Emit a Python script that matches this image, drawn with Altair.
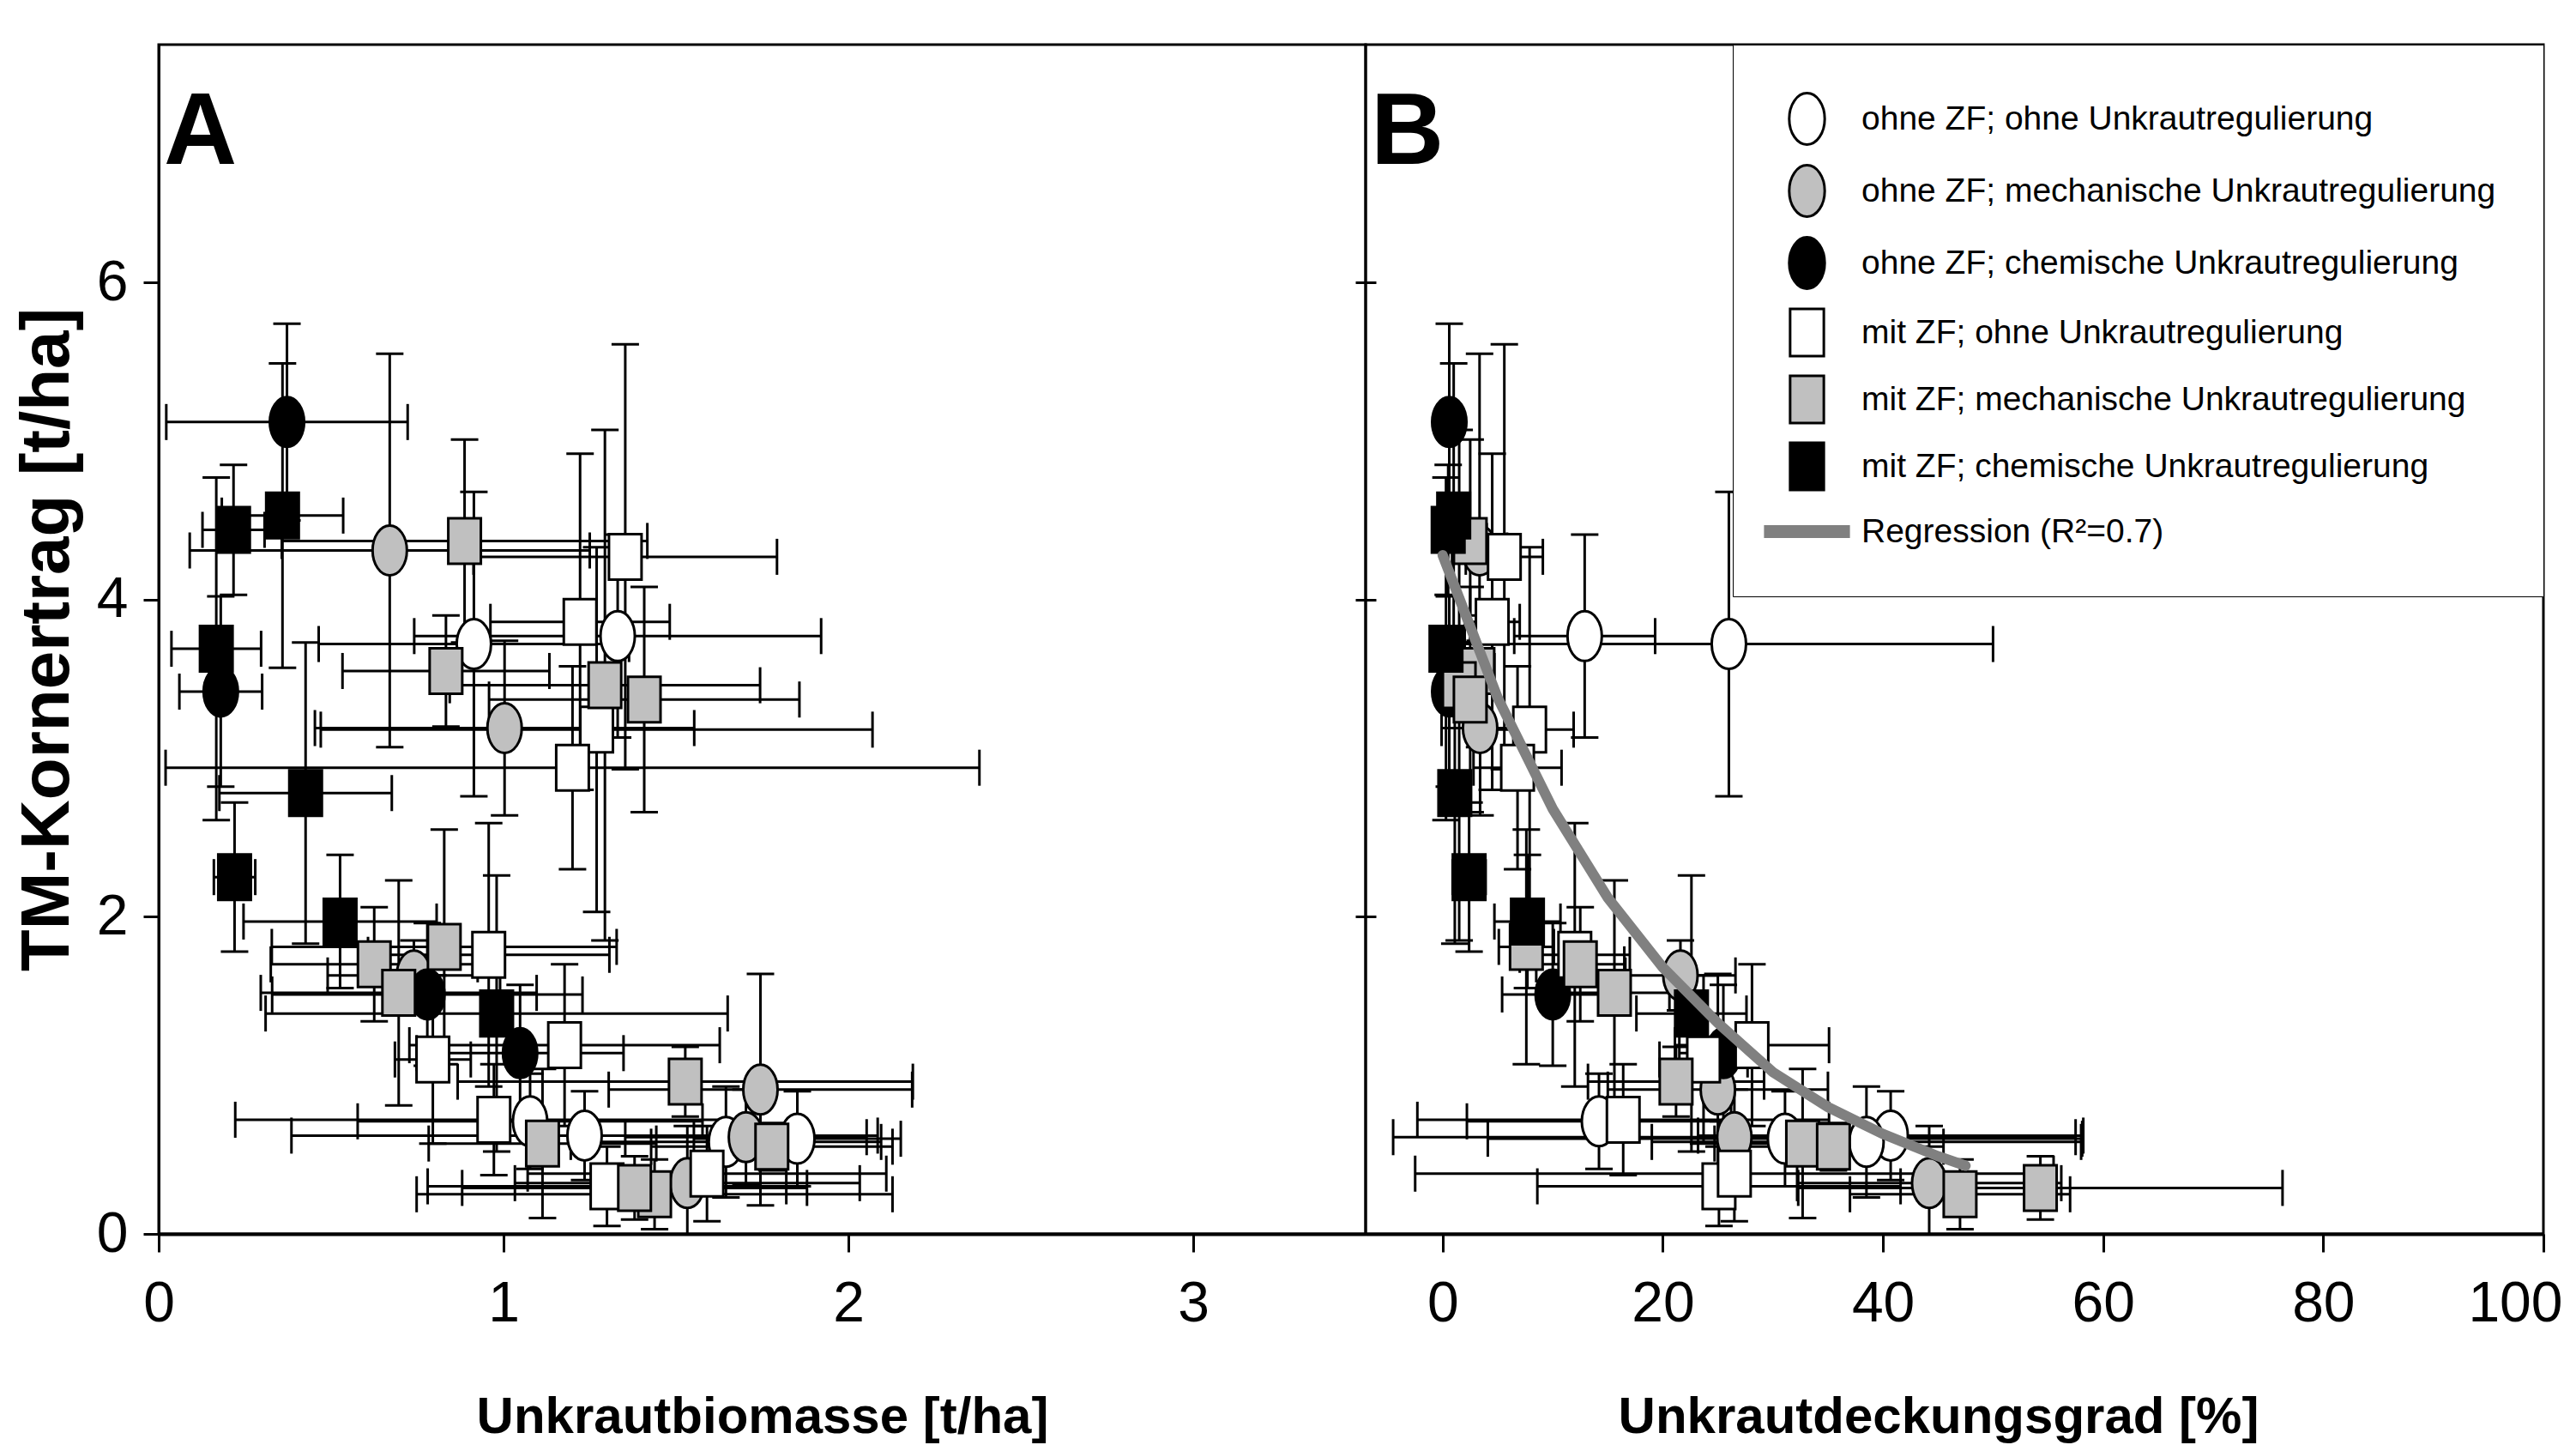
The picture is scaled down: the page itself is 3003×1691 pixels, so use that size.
import altair as alt
import pandas as pd

# ---------------- data ----------------
series_names = [
    "ohne ZF; ohne Unkrautregulierung",
    "ohne ZF; mechanische Unkrautregulierung",
    "ohne ZF; chemische Unkrautregulierung",
    "mit ZF; ohne Unkrautregulierung",
    "mit ZF; mechanische Unkrautregulierung",
    "mit ZF; chemische Unkrautregulierung",
]
regression_label = "Regression (R²=0.7)"

point_series = [0] * 6 + [1] * 6 + [2] * 4 + [3] * 10 + [4] * 12 + [5] * 7

yield_t = [3.72, 3.77, 0.71, 0.62, 0.58, 0.60,
           4.31, 3.19, 1.63, 0.91, 0.61, 0.32,
           5.12, 3.42, 1.51, 1.14,
           4.27, 3.86, 3.18, 2.94, 1.76, 1.19, 1.10, 0.72, 0.30, 0.38,
           4.37, 3.55, 3.46, 3.37, 1.81, 1.70, 1.52, 0.96, 0.57, 0.55, 0.25, 0.29,
           4.53, 4.44, 3.69, 2.78, 2.25, 1.97, 1.39]
yield_sd = [0.96, 0.64, 0.30, 0.28, 0.35, 0.30,
            1.24, 0.55, 0.22, 0.73, 0.30, 0.36,
            0.62, 0.60, 0.45, 0.43,
            1.34, 1.06, 1.15, 0.64, 0.83, 0.51, 0.53, 0.35, 0.25, 0.30,
            0.64, 0.35, 1.61, 0.71, 0.74, 0.36, 0.71, 0.22, 0.47, 0.15, 0.22, 0.20,
            0.96, 0.41, 1.08, 0.95, 0.47, 0.42, 0.87]
biomass = [0.914, 1.331, 1.077, 1.235, 1.645, 1.852,
           0.670, 1.003, 0.740, 1.745, 1.703, 1.533,
           0.372, 0.180, 0.779, 1.048,
           1.353, 1.222, 1.270, 1.200, 0.957, 1.177, 0.795, 0.972, 1.300, 1.590,
           0.887, 0.833, 1.294, 1.408, 0.828, 0.625, 0.696, 1.527, 1.113, 1.778, 1.438, 1.380,
           0.359, 0.217, 0.167, 0.426, 0.220, 0.526, 0.980]
biomass_sd = [0.45, 0.59, 0.50, 0.85, 0.45, 0.30,
              0.58, 0.55, 0.25, 0.44, 0.35, 0.50,
              0.35, 0.12, 0.45, 0.30,
              0.44, 0.26, 0.80, 1.18, 0.35, 0.45, 0.11, 0.75, 0.52, 0.52,
              0.53, 0.30, 0.45, 0.45, 0.50, 0.30, 0.40, 0.66, 0.33, 0.35, 0.69, 0.50,
              0.176, 0.09, 0.13, 0.25, 0.06, 0.28, 0.67]
cover = [26.0, 12.9, 14.2, 40.7, 38.5, 31.1,
         3.35, 3.4, 21.6, 25.0, 26.5, 44.2,
         0.6, 0.6, 10.0, 25.5,
         5.6, 4.5, 7.9, 6.8, 12.0, 28.1, 23.7, 16.4, 25.1, 26.5,
         2.5, 3.2, 1.5, 2.5, 7.6, 12.5, 15.6, 21.2, 32.7, 35.5, 47.0, 54.3,
         1.0, 0.5, 0.3, 1.1, 2.4, 7.7, 22.6]
cover_sd = [24.0, 6.4, 12.0, 17.5, 19.5, 27.0,
            2.5, 3.5, 5.0, 10.0, 31.0, 12.0,
            0.6, 0.8, 4.6, 4.0,
            3.5, 2.5, 4.0, 4.0, 5.0, 7.0, 4.0, 18.7, 16.5, 29.0,
            1.5, 1.5, 1.2, 1.5, 2.5, 4.0, 5.0, 8.0, 8.0, 10.0, 10.0, 22.0,
            0.8, 0.5, 0.5, 1.0, 1.5, 3.0, 5.0]

reg_cover = [0, 5, 10, 15, 20, 25, 30, 35, 40, 45, 47.5]
reg_yield = [4.28, 3.38, 2.68, 2.12, 1.68, 1.33, 1.02, 0.80, 0.63, 0.49, 0.43]

panel_letters = ["A", "B"]
y_ticks = [0, 2, 4, 6]

# ---------------- tables ----------------
df = pd.DataFrame({
    "series": [series_names[i] for i in point_series],
    "y": yield_t,
    "ylo": [v - e for v, e in zip(yield_t, yield_sd)],
    "yhi": [v + e for v, e in zip(yield_t, yield_sd)],
    "bx": biomass,
    "bxlo": [v - e for v, e in zip(biomass, biomass_sd)],
    "bxhi": [v + e for v, e in zip(biomass, biomass_sd)],
    "cx": cover,
    "cxlo": [v - e for v, e in zip(cover, cover_sd)],
    "cxhi": [v + e for v, e in zip(cover, cover_sd)],
})
reg_df = pd.DataFrame({"rx": reg_cover, "ry": reg_yield})

# ---------------- styles ----------------
FONT = "Liberation Sans, Arial, sans-serif"
GRAY = "#c0c0c0"

a, k = 0.69, 0.5523
ka, kk = round(a * k, 4), k
ELLIPSE = (f"M0,-1 C{ka},-1 {a},-{kk} {a},0 C{a},{kk} {ka},1 0,1 "
           f"C-{ka},1 -{a},{kk} -{a},0 C-{a},-{kk} -{ka},-1 0,-1 Z")
RECT = "M-0.655,-0.914 L0.655,-0.914 L0.655,0.914 L-0.655,0.914 Z"
LINESYM = "M-1.62,-0.2 L1.62,-0.2 L1.62,0.2 L-1.62,0.2 Z"

all_series = series_names + [regression_label]
shape_scale = alt.Scale(domain=all_series, range=[ELLIPSE] * 3 + [RECT] * 3 + [LINESYM])
fill_scale = alt.Scale(domain=all_series,
                       range=["white", GRAY, "black", "white", GRAY, "black", "#808080"])
stroke_scale = alt.Scale(domain=all_series, range=["black"] * 6 + ["#808080"])

legend = alt.Legend(
    title=None, orient="top-right", offset=0, strokeColor="black", fillColor="white",
    padding=55, symbolSize=3600, symbolStrokeWidth=3, labelFont=FONT,
    labelFontSize=39, labelColor="black", rowPadding=11, labelOffset=32,
    labelLimit=1000, symbolLimit=20,
)

y_scale = alt.Scale(domain=[0, 7.5], nice=False, zero=False)


def make_panel(xf, xlo, xhi, xdom, xvals, xtitle, left, with_legend, letter, width):
    xs = alt.Scale(domain=xdom, nice=False, zero=False)
    xaxis = alt.Axis(values=xvals, format="d", title=xtitle, grid=False,
                     tickSize=21, tickWidth=3, tickColor="black",
                     domainColor="black", domainWidth=4,
                     labelFont=FONT, labelFontSize=66, labelColor="black",
                     labelPadding=28, labelFlush=not left, labelFlushOffset=22,
                     titleFont=FONT, titleFontSize=60, titleFontWeight="bold",
                     titleColor="black", titlePadding=70,
                     titleX=width / 2 if left else width / 2 - 19)
    if left:
        yaxis = alt.Axis(values=y_ticks, format="d", title="TM-Kornertrag [t/ha]",
                         grid=False, tickSize=18, tickWidth=3, tickColor="black",
                         domainColor="black", domainWidth=3,
                         labelFont=FONT, labelFontSize=66, labelColor="black",
                         labelPadding=18,
                         titleFont=FONT, titleFontSize=80, titleFontWeight="bold",
                         titleColor="black", titlePadding=16)
    else:
        yaxis = alt.Axis(values=y_ticks, labels=False, title=None, grid=False,
                         domain=False, tickSize=12, tickWidth=3, tickColor="black")

    X = lambda f: alt.X(f"{f}:Q", scale=xs, axis=xaxis)
    Y = lambda f: alt.Y(f"{f}:Q", scale=y_scale, axis=yaxis)
    base = alt.Chart(df)

    xbar = base.mark_rule(color="black", strokeWidth=3, clip=True).encode(
        x=X(xlo), x2=f"{xhi}:Q", y=Y("y"))
    xcap_lo = base.mark_tick(orient="vertical", size=42, thickness=3, color="black",
                             clip=True, opacity=1).encode(x=X(xlo), y=Y("y"))
    xcap_hi = base.mark_tick(orient="vertical", size=42, thickness=3, color="black",
                             clip=True, opacity=1).encode(x=X(xhi), y=Y("y"))
    ybar = base.mark_rule(color="black", strokeWidth=3, clip=True).encode(
        x=X(xf), y=Y("ylo"), y2="yhi:Q")
    ycap_lo = base.mark_tick(orient="horizontal", size=32, thickness=3, color="black",
                             clip=True, opacity=1).encode(x=X(xf), y=Y("ylo"))
    ycap_hi = base.mark_tick(orient="horizontal", size=32, thickness=3, color="black",
                             clip=True, opacity=1).encode(x=X(xf), y=Y("yhi"))

    lg = legend if with_legend else None
    pts = base.mark_point(filled=True, size=3364, strokeWidth=3, opacity=1,
                          clip=True).encode(
        x=X(xf), y=Y("y"),
        shape=alt.Shape("series:N", scale=shape_scale, legend=lg),
        fill=alt.Fill("series:N", scale=fill_scale, legend=lg),
        stroke=alt.Stroke("series:N", scale=stroke_scale, legend=lg),
    )
    layers = [xbar, xcap_lo, xcap_hi, ybar, ycap_lo, ycap_hi, pts]

    if not left:
        reg = alt.Chart(reg_df).mark_line(color="#808080", strokeWidth=12,
                                          strokeCap="round", clip=True).encode(
            x=X("rx"), y=Y("ry"))
        layers.append(reg)

    lab = alt.Chart(pd.DataFrame({"t": [letter]})).mark_text(
        align="left", baseline="alphabetic", font=FONT, fontSize=118,
        fontWeight="bold", color="black").encode(
        x=alt.value(6), y=alt.value(139), text="t:N")
    layers.append(lab)

    main = alt.layer(*layers)
    if left:
        # tick marks on the shared panel border (pointing into panel B)
        right_axis = alt.Axis(values=y_ticks, orient="right", labels=False, title=None,
                              grid=False, domain=False, tickSize=12, tickWidth=3,
                              tickColor="black")
        border_ticks = alt.Chart(pd.DataFrame({"v": y_ticks})).mark_point(
            opacity=0).encode(y=alt.Y("v:Q", scale=y_scale, axis=right_axis))
        main = alt.layer(main, border_ticks).resolve_axis(y="independent")
    return main.properties(width=width, height=1386)


panel_a = make_panel("bx", "bxlo", "bxhi", [0, 3.5], [0, 1, 2, 3],
                     "Unkrautbiomasse [t/ha]", True, False, panel_letters[0], 1407)
panel_b = make_panel("cx", "cxlo", "cxhi", [-7, 100], [0, 20, 40, 60, 80, 100],
                     "Unkrautdeckungsgrad [%]", False, True, panel_letters[1], 1373)

chart = alt.hconcat(panel_a, panel_b, spacing=0, bounds="flush").resolve_scale(
    x="independent", y="independent", shape="independent",
    fill="independent", stroke="independent"
).properties(
    padding={"left": 5, "top": 42, "right": 0, "bottom": 0},
    background="white",
).configure_view(stroke="black", strokeWidth=3)

chart.save("out.html", embed_options={"renderer": "svg", "actions": False})
